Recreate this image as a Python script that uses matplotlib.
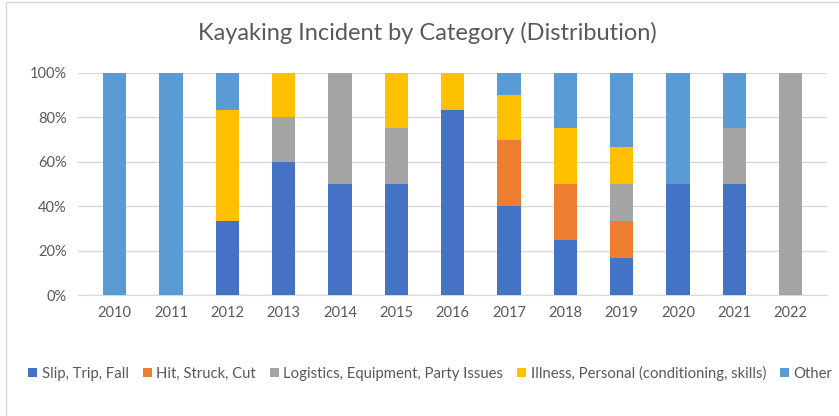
import numpy as np
import matplotlib.pyplot as plt
from matplotlib.patches import Rectangle

plt.rcParams['font.family'] = ['Lato', 'DejaVu Sans']

years = ['2010', '2011', '2012', '2013', '2014', '2015', '2016',
         '2017', '2018', '2019', '2020', '2021', '2022']

slip = [0, 0, 33.3, 60, 50, 50, 83.3, 40, 25, 16.7, 50, 50, 0]
hit = [0, 0, 0, 0, 0, 0, 0, 30, 25, 16.7, 0, 0, 0]
logistics = [0, 0, 0, 20, 50, 25, 0, 0, 0, 16.7, 0, 25, 100]
illness = [0, 0, 50, 20, 0, 25, 16.7, 20, 25, 16.7, 0, 0, 0]
other = [100, 100, 16.7, 0, 0, 0, 0, 10, 25, 33.3, 50, 25, 0]

labels = ['Slip, Trip, Fall', 'Hit, Struck, Cut', 'Logistics, Equipment, Party Issues',
          'Illness, Personal (conditioning, skills)', 'Other']
colors = ['#4472c4', '#ed7d31', '#a5a5a5', '#ffc000', '#5b9bd5']

fig = plt.figure(figsize=(8.39, 4.16), dpi=100)
ax = fig.add_axes([0.093, 0.29, 0.893, 0.535])

x = np.arange(len(years))
bottom = np.zeros(len(years))
for vals, lab, col in zip([slip, hit, logistics, illness, other], labels, colors):
    ax.bar(x, vals, 0.41, bottom=bottom, color=col, label=lab, zorder=3)
    bottom += np.array(vals)

ax.set_ylim(0, 100)
ax.set_xlim(-0.65, 12.65)
ax.set_yticks(range(0, 101, 20))
ax.set_yticklabels([f'{v}%' for v in range(0, 101, 20)])
ax.set_xticks(x)
ax.set_xticklabels(years)
ax.grid(axis='y', color='#d9d9d9', linewidth=1, zorder=0)
for s in ['top', 'right', 'left']:
    ax.spines[s].set_visible(False)
ax.spines['bottom'].set_color('#d9d9d9')
ax.tick_params(length=0, colors='#595959', labelsize=10.5, pad=8)

fig.text(0.509, 0.92, 'Kayaking Incident by Category (Distribution)',
         ha='center', va='center', fontsize=17, color='#595959')

fig.legend(loc='center', bbox_to_anchor=(0.513, 0.103), ncol=5, frameon=False,
           fontsize=10.7, handlelength=0.6, handleheight=0.6, handletextpad=0.3,
           columnspacing=0.95, labelcolor='#595959')

fig.patches.append(Rectangle((6 / 839, -0.1), 1.0, 1.1 - 2 / 416,
                             transform=fig.transFigure, fill=False,
                             edgecolor='#d9d9d9', linewidth=1))

fig.savefig('out.png', dpi=100)
